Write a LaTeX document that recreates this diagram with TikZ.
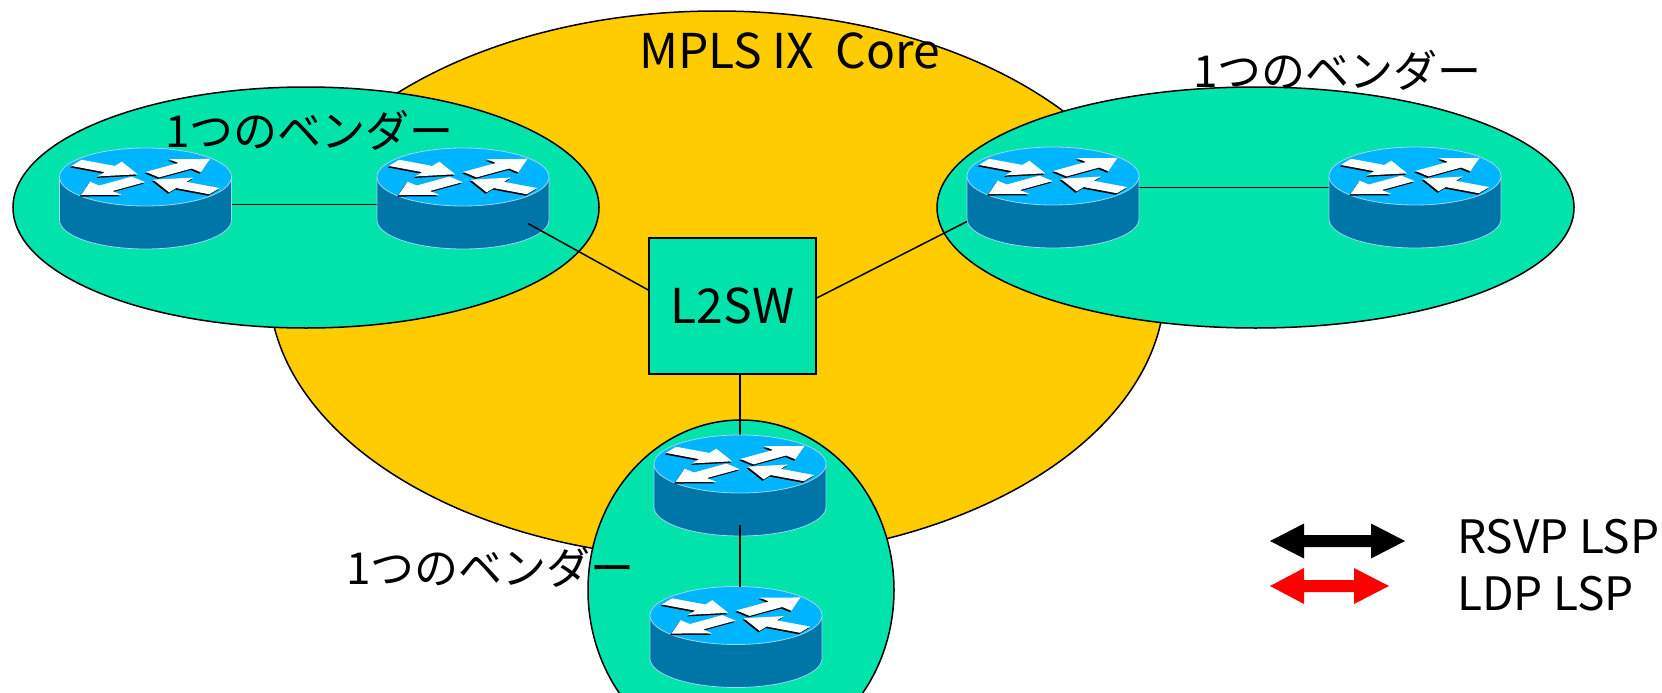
\documentclass[tikz,border=0pt]{standalone}
\usepackage{fontspec}
\setmainfont{Noto Sans CJK JP}
\definecolor{coreyellow}{RGB}{255,204,0}
\definecolor{vendgreen}{RGB}{0,227,170}
\definecolor{rtopc}{RGB}{0,181,255}
\definecolor{rbodyc}{RGB}{0,118,168}
\definecolor{rlinec}{RGB}{150,215,250}
\tikzset{
  area/.style={draw=black,line width=1.5pt},
  link/.style={draw=black,line width=1.5pt},
  rbox/.style={rectangle,minimum width=172pt,minimum height=101pt,inner sep=0pt,outer sep=0pt},
  swbox/.style={rectangle,draw=black,line width=1.5pt,fill=vendgreen,minimum width=167pt,minimum height=136pt,inner sep=0pt,font=\fontsize{48}{54}\selectfont},
  latin/.style={inner sep=0pt,font=\fontsize{48}{54}\selectfont},
  jlabel/.style={inner sep=0pt,font=\fontsize{44}{50}\selectfont},
  legendtxt/.style={inner sep=0pt,font=\fontsize{46}{52}\selectfont},
}
% one arrow in the unflattened disc: #1,#2 start, #3 angle, #4 length, #5 colour
\newcommand\rarr[5]{%
  \begin{scope}[shift={(#1,#2)},rotate=#3]
    \fill[#5] (0,-10.5) -- ({#4-32},-10.5) -- ({#4-32},-25) -- (#4,0) -- ({#4-32},25) -- ({#4-32},10.5) -- (0,10.5) -- cycle;
  \end{scope}}
\newcommand\rarrset[1]{%
  \rarr{-69}{42}{-29}{70}{#1}
  \rarr{7}{7}{39}{74}{#1}
  \rarr{-7}{-7}{219}{74}{#1}
  \rarr{69}{-42}{151}{70}{#1}}
\newcommand\router[2]{%
  \node[rbox] (#1) at (#2) {};
  \begin{scope}[shift={(#1.center)}]
    \fill[rbodyc] (-86,21.5) -- (-86,-21.5) arc[start angle=180,end angle=360,x radius=86,y radius=29] -- (86,21.5) -- cycle;
    \draw[rlinec,line width=0.8pt] (-86,21.5) -- (-86,-21.5) arc[start angle=180,end angle=360,x radius=86,y radius=29] -- (86,21.5);
    \fill[rtopc] (0,21.5) ellipse[x radius=86,y radius=29];
    \draw[rlinec,line width=0.8pt] (0,21.5) ellipse[x radius=86,y radius=29];
    \begin{scope}[shift={(-1.2,20)},yscale=0.337]
      \rarrset{black}
    \end{scope}
    \begin{scope}[shift={(0,21.5)},yscale=0.337]
      \rarrset{white}
    \end{scope}
  \end{scope}}
\begin{document}
\begin{tikzpicture}[x=1pt,y=1pt]
\useasboundingbox (0,0) rectangle (1662,-693);
\fill[white] (0,0) rectangle (1662,-693);
\clip (0,0) rectangle (1662,-693);
% areas
\fill[coreyellow,area] (717,-285) ellipse[x radius=448,y radius=274];
\fill[vendgreen,area] (306,-207.5) ellipse[x radius=293,y radius=120.5];
\fill[vendgreen,area] (1255.5,-207.5) ellipse[x radius=318.5,y radius=120.5];
\fill[vendgreen,area] (741,-590) ellipse[x radius=153,y radius=170];
% title
\node[latin,anchor=base west] (core) at (639,-69) {MPLS IX\ \ Core};
% switch
\node[swbox] (sw) at (732.5,-306) {L2SW};
% router positions
\coordinate (pA) at (145.5,-198.5);
\coordinate (pB) at (463,-198.5);
\coordinate (pC1) at (1053,-197.5);
\coordinate (pC2) at (1415,-197.5);
\coordinate (pD1) at (740,-485.5);
\coordinate (pD2) at (736,-637);
% links drawn under routers
\draw[link] ([shift={(-10,-6)}]pA) -- ([shift={(10,-6)}]pB);
\draw[link] ([shift={(-10,10)}]pC1) -- ([shift={(10,10)}]pC2);
\draw[link] (sw.south -| pD1) -- (pD1);
% routers
\router{A}{pA}
\router{B}{pB}
\router{C1}{pC1}
\router{C2}{pC2}
\router{D1}{pD1}
\router{D2}{pD2}
% links drawn over routers
\draw[link] ([shift={(65,-25)}]B.center) -- ([yshift=16]sw.west);
\draw[link] ([yshift=8]sw.east) -- ([yshift=-24]C1.west);
\draw[link] ([yshift=11]D1.south) -- (D1.south |- D2.north);
% vendor labels
\node[jlabel,anchor=base west] (vl) at (165,-147) {1つのベンダー};
\node[jlabel,anchor=base west] (vr) at (1193,-87) {1つのベンダー};
\node[jlabel,anchor=base west] (vb) at (346,-584) {1つのベンダー};
% legend
\fill[black] (1270,-541) -- (1304,-523.5) -- (1304,-535) -- (1371,-535) -- (1371,-523.5) -- (1405,-541) -- (1371,-558.5) -- (1371,-547) -- (1304,-547) -- (1304,-558.5) -- cycle;
\fill[red] (1270,-586) -- (1304,-568) -- (1304,-580) -- (1354,-580) -- (1354,-568) -- (1389,-586) -- (1354,-604) -- (1354,-592) -- (1304,-592) -- (1304,-604) -- cycle;
\node[legendtxt,anchor=base west] (rsvp) at (1457,-553) {RSVP LSP};
\node[legendtxt,anchor=base west] (ldp) at (1457,-610) {LDP LSP};
\end{tikzpicture}
\end{document}
